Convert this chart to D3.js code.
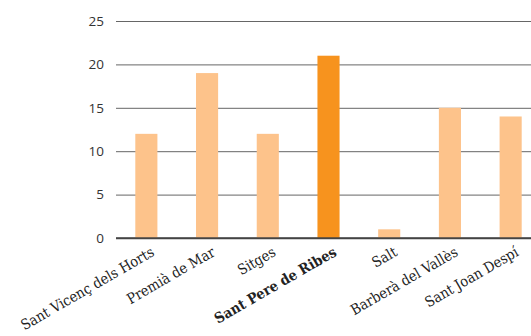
<!DOCTYPE html>
<html>
<head>
<meta charset="utf-8">
<script src="https://cdn.jsdelivr.net/npm/d3@7"></script>
<style>
  body { margin: 0; background: #fff; }
  svg { display: block; }
</style>
</head>
<body>
<div id="chart"></div>
<script>
// data
var towns = ["Sant Vicenç dels Horts", "Premià de Mar", "Sitges", "Sant Pere de Ribes", "Salt", "Barberà del Vallès", "Sant Joan Despí"];
var values = [12, 19, 12, 21, 1, 15, 14];
var highlight = "Sant Pere de Ribes";
var yTicks = [0, 5, 10, 15, 20, 25];

var width = 531, height = 336;
var margin = { top: 21, right: -10, bottom: 98, left: 116 };

var svg = d3.select("#chart").append("svg")
  .attr("width", width)
  .attr("height", height);

var x = d3.scaleBand()
  .domain(towns)
  .range([margin.left, width - margin.right])
  .paddingInner(0.636)
  .paddingOuter(0.318);

var y = d3.scaleLinear()
  .domain([0, 25])
  .range([height - margin.bottom, margin.top]);

// gridlines + tick labels
var yAxis = svg.append("g")
  .attr("transform", "translate(" + margin.left + ",0)")
  .call(d3.axisLeft(y).tickValues(yTicks).tickSize(0).tickPadding(12).tickFormat(d3.format("d")));
yAxis.select(".domain").remove();
yAxis.selectAll("text")
  .style("font-family", "'Open Sans', sans-serif")
  .style("font-size", "13.5px")
  .style("fill", "#333");
yAxis.selectAll(".tick").append("line")
  .attr("x1", 0)
  .attr("x2", width)
  .attr("stroke", function(d) { return d === 0 ? "#444" : "#666"; })
  .attr("stroke-width", function(d) { return d === 0 ? 1.6 : 1; });

// bars
svg.append("g").selectAll("rect")
  .data(towns)
  .enter().append("rect")
  .attr("x", function(d) { return x(d); })
  .attr("width", x.bandwidth())
  .attr("y", function(d, i) { return y(values[i]); })
  .attr("height", function(d, i) { return y(0) - y(values[i]); })
  .attr("fill", function(d) { return d === highlight ? "#f7931e" : "#fdc38b"; });

// baseline on top
svg.append("line")
  .attr("x1", margin.left)
  .attr("x2", width)
  .attr("y1", y(0))
  .attr("y2", y(0))
  .attr("stroke", "#444")
  .attr("stroke-width", 1.6);

// category labels
svg.append("g").selectAll("text")
  .data(towns)
  .enter().append("text")
  .attr("transform", function(d) {
    return "translate(" + (x(d) + x.bandwidth() / 2 + 9) + "," + (y(0) + 17) + ") rotate(-30)";
  })
  .attr("text-anchor", "end")
  .style("font-family", "'DejaVu Serif Condensed', 'DejaVu Serif', serif")
  .style("font-stretch", "condensed")
  .style("font-size", "14.5px")
  .style("font-weight", function(d) { return d === highlight ? "bold" : "normal"; })
  .style("fill", "#222")
  .text(function(d) { return d; });
</script>
</body>
</html>
